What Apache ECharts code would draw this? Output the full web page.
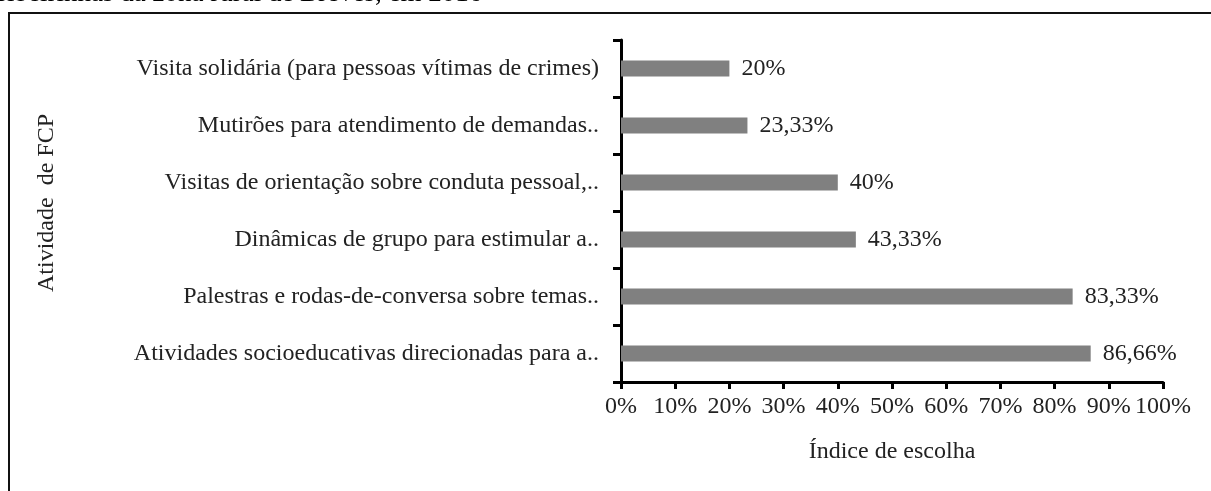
<!DOCTYPE html>
<html>
<head>
<meta charset="utf-8">
<title>Atividade de FCP</title>
<script src="https://cdn.jsdelivr.net/npm/echarts@6/dist/echarts.min.js"></script>
<style>
  html, body { margin: 0; padding: 0; background: #fff; }
  #chart { width: 1211px; height: 491px; }
</style>
</head>
<body>
<div id="chart"></div>
<script>
// categorias (de cima para baixo)
var categorias = [
  "Visita solidária (para pessoas vítimas de crimes)",
  "Mutirões para atendimento de demandas..",
  "Visitas de orientação sobre conduta pessoal,..",
  "Dinâmicas de grupo para estimular a..",
  "Palestras e rodas-de-conversa sobre temas..",
  "Atividades socioeducativas direcionadas para a.."
];
// índice de escolha (%)
var valores = [20, 23.33, 40, 43.33, 83.33, 86.66];
var tituloCortado = "ribeirinhas da zona rural de Breves, em 2016";

var fonte = '"Liberation Serif", "Times New Roman", serif';
var tam = 24;
var chart = echarts.init(document.getElementById("chart"));

var option = {
  backgroundColor: "#fff",
  animation: false,
  textStyle: { fontFamily: fonte },
  graphic: [
    {
      type: "text",
      left: -2,
      top: -20,
      style: { text: tituloCortado, font: '27px ' + fonte, fill: "#000" }
    },
    {
      type: "rect",
      shape: { x: 9, y: 13, width: 1400, height: 700 },
      style: { fill: null, stroke: "#111", lineWidth: 2 },
      silent: true
    }
  ],
  grid: { left: 621, right: 48, top: 40, bottom: 109 },
  xAxis: {
    type: "value",
    min: 0,
    max: 100,
    interval: 10,
    name: "Índice de escolha",
    nameLocation: "middle",
    nameGap: 58,
    nameTextStyle: { fontFamily: fonte, fontSize: tam, color: "#222" },
    axisLine: { show: true, lineStyle: { color: "#000", width: 3 } },
    axisTick: { show: true, length: 7, lineStyle: { color: "#000", width: 3 } },
    axisLabel: {
      margin: 13,
      fontFamily: fonte,
      fontSize: tam,
      color: "#222",
      hideOverlap: false,
      formatter: "{value}%"
    },
    splitLine: { show: false }
  },
  yAxis: {
    type: "category",
    inverse: true,
    data: categorias,
    name: "Atividade  de FCP",
    nameLocation: "middle",
    nameGap: 562,
    nameTextStyle: { fontFamily: fonte, fontSize: tam, color: "#222", padding: [0, 0, 0, 16] },
    axisLine: { show: true, lineStyle: { color: "#000", width: 3 } },
    axisTick: { show: true, length: 8, lineStyle: { color: "#000", width: 3 } },
    axisLabel: {
      margin: 22,
      fontFamily: fonte,
      fontSize: tam,
      color: "#222"
    }
  },
  series: [
    {
      type: "bar",
      data: valores,
      barWidth: 16,
      itemStyle: { color: "#808080" },
      label: {
        show: true,
        position: "right",
        distance: 12,
        fontFamily: fonte,
        fontSize: tam,
        color: "#222",
        formatter: function (p) {
          return String(p.value).replace(".", ",") + "%";
        }
      }
    }
  ]
};

chart.setOption(option);
window.addEventListener("resize", function () {
  chart.resize();
});
</script>
</body>
</html>
